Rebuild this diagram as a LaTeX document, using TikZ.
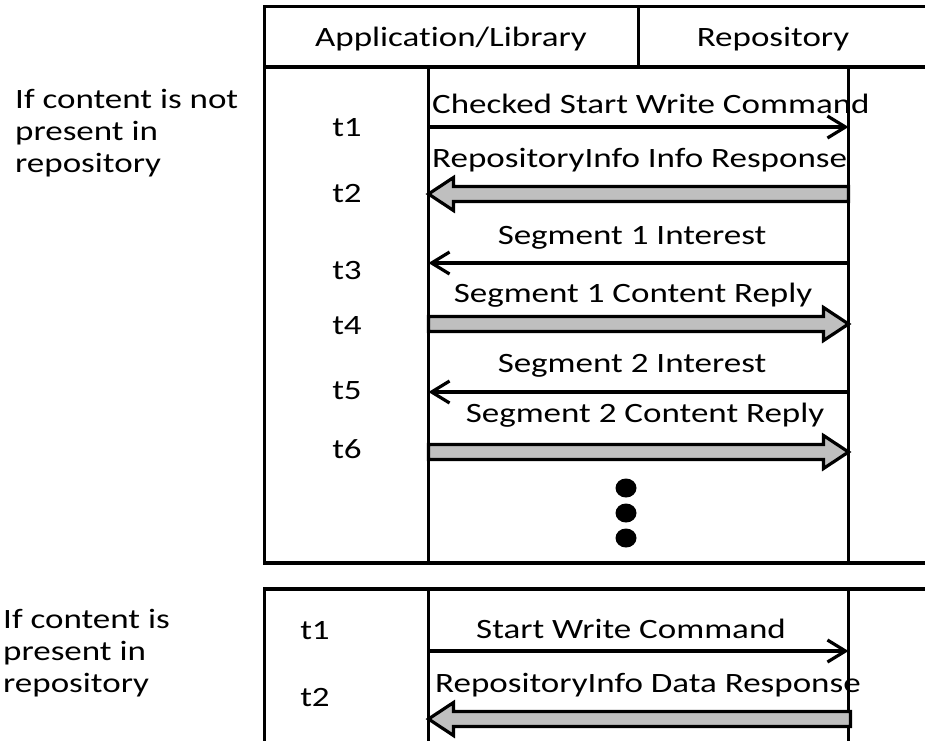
\documentclass[tikz,border=0pt]{standalone}
\usepackage{graphicx}
\usepackage{fontspec}
\setmainfont{Carlito}[Ligatures=NoCommon]
\usetikzlibrary{arrows.meta,calc}

% wide lettering used throughout the chart
\newcommand\sx[1]{\scalebox{1.25}[1]{#1}}

% thick grey block arrow between two named points
\newcommand\fatarrow[2]{%
  \filldraw[fat] let \p1=(#1), \p2=(#2), \n1={sign(\x2-\x1)} in
    (\x1,{\y1+7.5pt}) -- ({\x2-\n1*25pt},{\y1+7.5pt}) -- ({\x2-\n1*25pt},{\y1+16.5pt})
    -- (\x2,\y1) -- ({\x2-\n1*25pt},{\y1-16.5pt}) -- ({\x2-\n1*25pt},{\y1-7.5pt})
    -- (\x1,{\y1-7.5pt}) -- cycle;}

\begin{document}
\begin{tikzpicture}[x=1pt,y=-1pt,
  txt/.style={font=\fontsize{28}{32}\selectfont, inner sep=0pt},
  frame/.style={line width=3.4pt},
  msg/.style={line width=3.2pt, -{Straight Barb[length=18pt,width=22pt]}},
  fat/.style={line width=3.2pt, fill=black!25, draw=black, line join=miter}]
\useasboundingbox (0,0) rectangle (925,740);

% ---- upper panel: frame and header
\draw[frame] (925,6.5) -- (264.5,6.5) -- (264.5,563) -- (925,563);
\draw[frame] (264.5,67) -- (925,67);
\draw[frame] (638.5,6.5) -- (638.5,67);
\node[txt, anchor=base] (hApp) at (451,46) {\sx{Application/Library}};
\node[txt, anchor=base] (hRepo) at (773,46) {\sx{Repository}};

% lifelines
\coordinate (appTop) at (428.5,67);  \coordinate (appBot) at (428.5,563);
\coordinate (repTop) at (848.5,67);  \coordinate (repBot) at (848.5,563);
\draw[frame] (appTop) -- (appBot);
\draw[frame] (repTop) -- (repBot);

% case label
\node[txt, anchor=base west] (caseA) at (15,108)
  {\sx{\begin{tabular}[t]{@{}l@{}}If content is not\\present in\\repository\end{tabular}}};

% time marks
\node[txt, anchor=base] (ta1) at (347,136) {\sx{t1}};
\node[txt, anchor=base] (ta2) at (347,202) {\sx{t2}};
\node[txt, anchor=base] (ta3) at (347,279) {\sx{t3}};
\node[txt, anchor=base] (ta4) at (347,334) {\sx{t4}};
\node[txt, anchor=base] (ta5) at (347,399) {\sx{t5}};
\node[txt, anchor=base] (ta6) at (347,458) {\sx{t6}};

% message end points
\coordinate (a1) at (428.5,127); \coordinate (r1) at (848.5,127);
\coordinate (a2) at (428.5,194); \coordinate (r2) at (848.5,194);
\coordinate (a3) at (428.5,263); \coordinate (r3) at (848.5,263);
\coordinate (a4) at (428.5,324); \coordinate (r4) at (848.5,324);
\coordinate (a5) at (428.5,392); \coordinate (r5) at (848.5,392);
\coordinate (a6) at (428.5,452); \coordinate (r6) at (848.5,452);

% messages
\node[txt, anchor=base west] (m1) at (432,113) {\sx{Checked Start Write Command}};
\draw[msg] (a1) -- (r1);
\node[txt, anchor=base west] (m2) at (432,167) {\sx{RepositoryInfo Info Response}};
\fatarrow{r2}{a2}
\node[txt, anchor=base] (m3) at (632,244) {\sx{Segment 1 Interest}};
\draw[msg] (r3) -- (a3);
\node[txt, anchor=base] (m4) at (633,302) {\sx{Segment 1 Content Reply}};
\fatarrow{a4}{r4}
\node[txt, anchor=base] (m5) at (632,372) {\sx{Segment 2 Interest}};
\draw[msg] (r5) -- (a5);
\node[txt, anchor=base] (m6) at (645,422) {\sx{Segment 2 Content Reply}};
\fatarrow{a6}{r6}

% continuation dots
\fill (626,488) ellipse [x radius=10.5pt, y radius=9.5pt];
\fill (626,513) ellipse [x radius=10.5pt, y radius=9.5pt];
\fill (626,538) ellipse [x radius=10.5pt, y radius=9.5pt];

% ---- lower panel
\draw[frame] (264.5,745) -- (264.5,589) -- (925,589);
\coordinate (bAppTop) at (428.5,589);  \coordinate (bAppBot) at (428.5,745);
\coordinate (bRepTop) at (848.5,589);  \coordinate (bRepBot) at (848.5,745);
\draw[frame] (bAppTop) -- (bAppBot);
\draw[frame] (bRepTop) -- (bRepBot);

\node[txt, anchor=base west] (caseB) at (3,628)
  {\sx{\begin{tabular}[t]{@{}l@{}}If content is\\present in\\repository\end{tabular}}};

\node[txt, anchor=base] (tb1) at (315,639) {\sx{t1}};
\node[txt, anchor=base] (tb2) at (315,706) {\sx{t2}};

\coordinate (ba1) at (428.5,651); \coordinate (br1) at (848.5,651);
\coordinate (ba2) at (428.5,719); \coordinate (br2) at (850.5,719);

\node[txt, anchor=base] (n1) at (631,638) {\sx{Start Write Command}};
\draw[msg] (ba1) -- (br1);
\node[txt, anchor=base] (n2) at (648,692) {\sx{RepositoryInfo Data Response}};
\fatarrow{br2}{ba2}
\end{tikzpicture}
\end{document}
